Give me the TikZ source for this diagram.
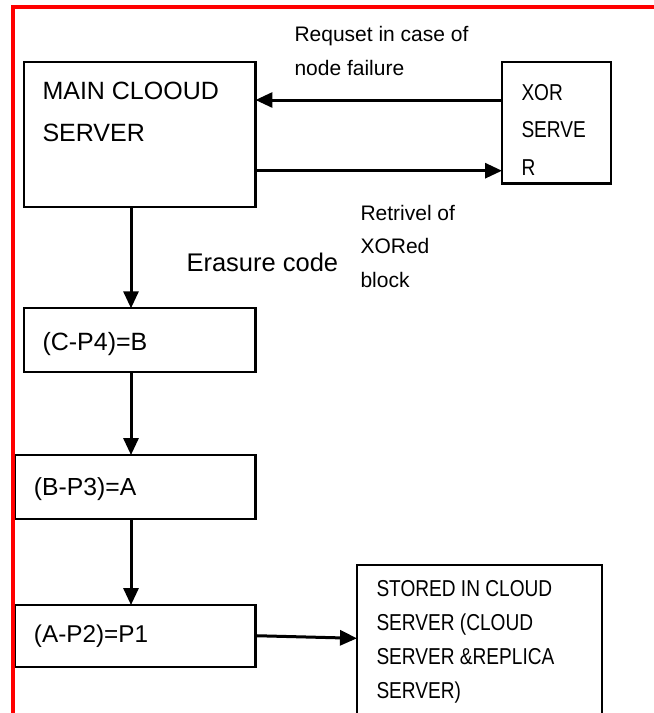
\documentclass[tikz,border=0pt]{standalone}
\usepackage{fontspec}
\setmainfont{Liberation Sans}
\newfontfamily\narrowfont[FakeStretch=0.83]{Liberation Sans}
\usetikzlibrary{arrows.meta}
\begin{document}
\begin{tikzpicture}[x=1pt,y=-1pt,
  box/.style={draw, line width=2.2pt, inner sep=0pt, outer sep=0pt},
  arr/.style={line width=3pt, -{Triangle[length=17pt,width=15pt]}},
  txt/.style={inner sep=0pt, outer sep=0pt, anchor=base west, align=left},
  bigtxt/.style={txt, font=\fontsize{25}{42}\selectfont},
  midtxt/.style={txt, font=\fontsize{21}{34}\selectfont},
  redline/.style={draw=red, line width=4pt}
]
\useasboundingbox (0,0) rectangle (654,713);
\clip (0,0) rectangle (654,713);
\fill[white] (0,0) rectangle (654,713);

% boxes
\node[box, minimum width=231.7pt, minimum height=145pt] (main) at (139.6,134.2) {};
\node[box, minimum width=109pt, minimum height=121.8pt] (xor) at (556.5,122.6) {};
\node[box, minimum width=231.7pt, minimum height=64pt] (b2) at (139.6,340.3) {};
\node[box, minimum width=240.8pt, minimum height=64.3pt] (b3) at (135,487.2) {};
\node[box, minimum width=240.8pt, minimum height=61.7pt] (b4) at (135,635.9) {};
\node[box, minimum width=245pt, minimum height=165pt] (stored) at (479.5,647.5) {};

% texts (base anchor = baseline of the last line)
\node[bigtxt] (tmain) at (42.5,141.7) {MAIN CLOOUD\\SERVER};
\node[txt, font=\narrowfont\fontsize{23}{37.5}\selectfont] (txor) at (521.5,175) {XOR\\SERVE\\R};
\node[midtxt] (treq) at (294.5,75.7) {Requset in case of\\node failure};
\node[txt, font=\fontsize{21}{33.5}\selectfont] (tret) at (360.5,287) {Retrivel of\\XORed\\block};
\node[txt, font=\fontsize{25.5}{30}\selectfont] (terase) at (186.5,271) {Erasure code};
\node[bigtxt] (tb2) at (42.5,350) {(C-P4)=B};
\node[txt, font=\fontsize{24.7}{30}\selectfont] (tb3) at (34,495) {(B-P3)=A};
\node[txt, font=\fontsize{24.3}{30}\selectfont] (tb4) at (34,642.7) {(A-P2)=P1};
\node[txt, font=\narrowfont\fontsize{23}{33.8}\selectfont] (tstored) at (376.5,698) {STORED IN CLOUD\\SERVER (CLOUD\\SERVER \&REPLICA\\SERVER)};

% helper coordinates
\coordinate (r1) at (0,100);
\coordinate (r2) at (0,170.7);
\coordinate (cx) at (131,0);
\coordinate (s1) at (0,635.7);
\coordinate (s2) at (0,638.3);

% connectors
\draw[arr] (xor.west |- r1) -- (main.east |- r1);
\draw[arr] (main.east |- r2) -- (xor.west |- r2);
\draw[arr] (main.south -| cx) -- (b2.north -| cx);
\draw[arr] (b2.south -| cx) -- (b3.north -| cx);
\draw[arr] (b3.south -| cx) -- (b4.north -| cx);
\draw[arr] (b4.east |- s1) -- (stored.west |- s2);

% red frame
\draw[redline] (12.5,713) -- (12.5,7) -- (654,7);
\end{tikzpicture}
\end{document}
